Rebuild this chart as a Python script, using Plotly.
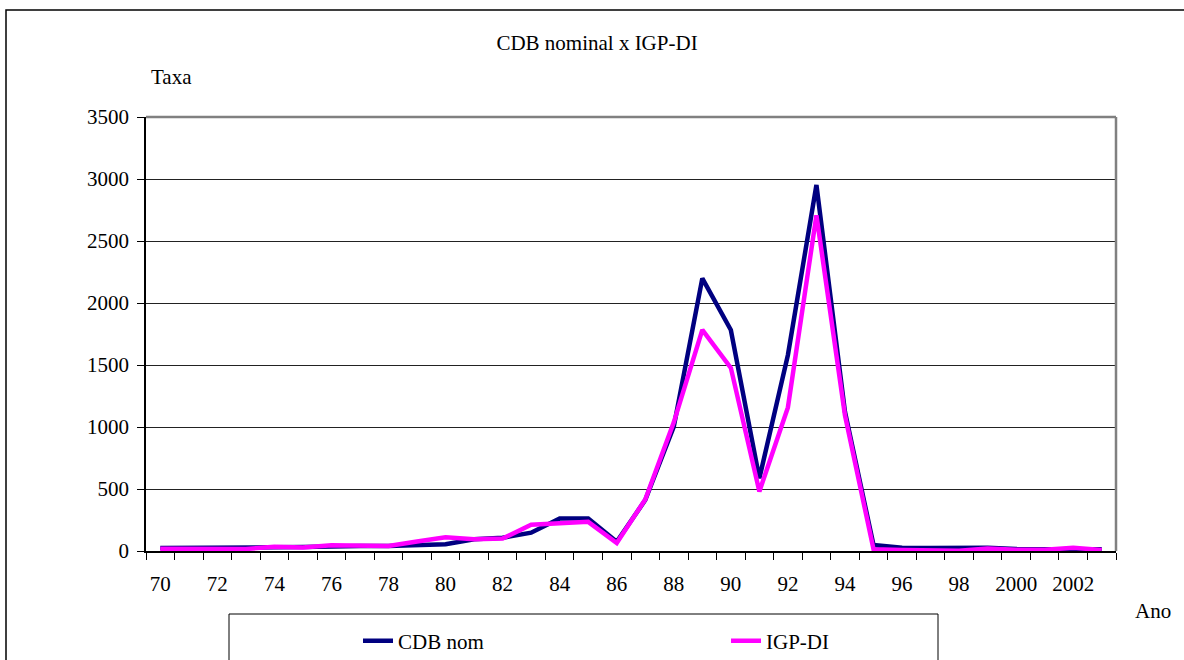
import plotly.graph_objects as go

# ---- data ----
years = list(range(1970, 2004))
cdb_nom = [24, 24, 22, 22, 30, 32, 38, 40, 40, 45,
           54, 94, 107, 148, 263, 263, 75, 411, 1003, 2199,
           1782, 586, 1581, 2952, 1123, 48, 26, 24, 29, 26,
           17, 17, 19, 15]
igp_di = [19, 20, 16, 16, 35, 29, 46, 39, 41, 77,
          110, 95, 100, 211, 224, 235, 65, 416, 1038, 1783,
          1477, 480, 1158, 2708, 1094, 15, 9, 8, 2, 20,
          10, 10, 26, 8]
tick_years = list(range(1970, 2004, 2))
tick_labels = [str(y % 100) if y < 2000 else str(y) for y in tick_years]
series_names = ["CDB nom", "IGP-DI"]
title_text = "CDB nominal x IGP-DI"
y_title = "Taxa"
x_title = "Ano"

W, H = 1184, 660
L, R, T, B = 146, 1116, 117, 551
PW, PH = R - L, B - T

def px(x):
    return (x - L) / PW

def py(y):
    return (B - y) / PH

FONT = "Liberation Serif"

fig = go.Figure()
fig.add_trace(go.Scatter(x=years, y=cdb_nom, mode="lines", name=series_names[0],
                         line=dict(color="#000080", width=4.5)))
fig.add_trace(go.Scatter(x=years, y=igp_di, mode="lines", name=series_names[1],
                         line=dict(color="#FF00FF", width=4.5)))

fig.update_layout(
    width=W, height=H,
    margin=dict(l=L, r=W - R, t=T, b=H - B, autoexpand=False),
    paper_bgcolor="white", plot_bgcolor="white",
    font=dict(family=FONT, size=21, color="black"),
    title=dict(text=title_text, x=597 / W, xanchor="center", xref="container",
               y=1 - 43 / H, yanchor="middle", yref="container",
               font=dict(family=FONT, size=21, color="black")),
    showlegend=True,
    legend=dict(orientation="h", x=px(358), xanchor="left", y=py(641), yanchor="middle",
                bgcolor="rgba(0,0,0,0)", borderwidth=0,
                entrywidth=323, entrywidthmode="pixels",
                font=dict(family=FONT, size=21, color="black")),
)

fig.update_xaxes(
    range=[1969.5, 2003.5], tickmode="array", tickvals=tick_years, ticktext=tick_labels,
    ticks="", showgrid=False, zeroline=False,
    showline=True, linecolor="black", linewidth=1.5,
    ticklabelstandoff=13,
    tickfont=dict(family=FONT, size=21, color="black"),
    minor=dict(ticks="outside", ticklen=7, tickwidth=1, tickcolor="black",
               tickmode="linear", tick0=1969.5, dtick=1, showgrid=False),
)
fig.update_yaxes(
    range=[0, 3500], dtick=500, tick0=0,
    ticks="outside", ticklen=7, tickwidth=1, tickcolor="black",
    showgrid=True, gridcolor="#222222", gridwidth=1, zeroline=False,
    showline=True, linecolor="black", linewidth=1.5,
    ticklabelstandoff=4,
    tickfont=dict(family=FONT, size=21, color="black"),
)

shapes = [
    # outer chart border
    dict(type="rect", xref="paper", yref="paper", x0=px(6), x1=px(1200), y0=py(700), y1=py(10),
         line=dict(color="black", width=1.5), layer="above"),
    # plot area top/right border in gray
    dict(type="line", xref="paper", yref="paper", x0=0, x1=1, y0=1, y1=1,
         line=dict(color="#808080", width=2.5), layer="above"),
    dict(type="line", xref="paper", yref="paper", x0=1, x1=1, y0=0, y1=1,
         line=dict(color="#808080", width=2.5), layer="above"),
    # legend box
    dict(type="rect", xref="paper", yref="paper", x0=px(229), x1=px(938), y0=py(700), y1=py(614),
         line=dict(color="black", width=1), layer="above"),
]
fig.update_layout(shapes=shapes)

fig.add_annotation(text=y_title, xref="paper", yref="paper", x=px(149), y=py(77),
                   xanchor="left", yanchor="middle", showarrow=False,
                   font=dict(family=FONT, size=21, color="black"))
fig.add_annotation(text=x_title, xref="paper", yref="paper", x=px(1133), y=py(611),
                   xanchor="left", yanchor="middle", showarrow=False,
                   font=dict(family=FONT, size=21, color="black"))

fig.write_html("out.html", config={"displayModeBar": False})
